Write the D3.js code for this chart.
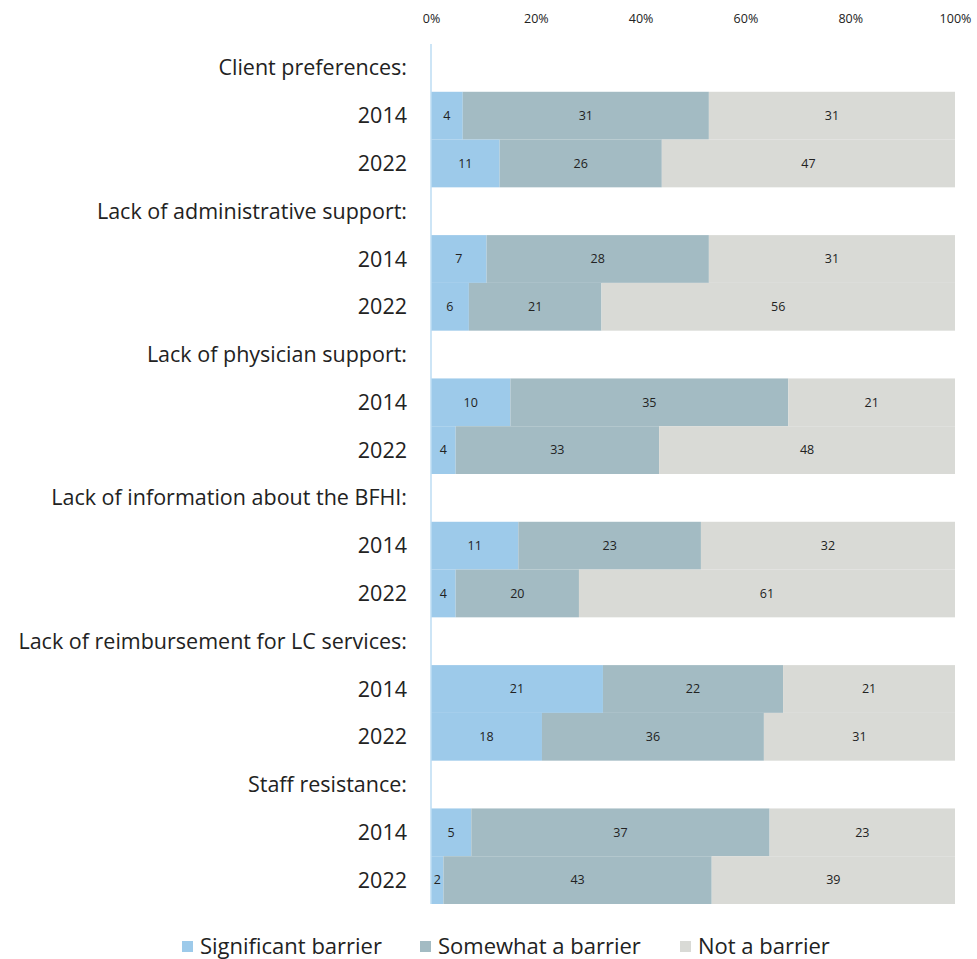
<!DOCTYPE html>
<html>
<head>
<meta charset="utf-8">
<script src="https://cdn.jsdelivr.net/npm/d3@7"></script>
<style>
  body { margin: 0; background: #fff; }
  text { font-family: "Open Sans", Lato, sans-serif; fill: #222; }
</style>
</head>
<body>
<svg width="977" height="959"></svg>
<script>
// ---- data (counts) ----
var barriers = ['Client preferences:', 'Lack of administrative support:', 'Lack of physician support:',
                'Lack of information about the BFHI:', 'Lack of reimbursement for LC services:', 'Staff resistance:'];
var years = ['2014', '2022'];
var seriesNames = ['Significant barrier', 'Somewhat a barrier', 'Not a barrier'];
var significant2014 = [4, 7, 10, 11, 21, 5];
var somewhat2014    = [31, 28, 35, 23, 22, 37];
var notBarrier2014  = [31, 31, 21, 32, 21, 23];
var significant2022 = [11, 6, 4, 4, 18, 2];
var somewhat2022    = [26, 21, 33, 20, 36, 43];
var notBarrier2022  = [47, 56, 48, 61, 31, 39];
var tickValues = [0, 0.2, 0.4, 0.6, 0.8, 1];

var colors = ['#9dcaea', '#a3bbc3', '#d9dad6'];

var svg = d3.select('svg');

// one row for the heading, one for each year
var rows = [];
barriers.forEach(function(b, i) {
    rows.push({key: 'h' + i, type: 'head', label: b});
    rows.push({key: 'a' + i, type: 'bar', label: years[0],
               vals: [significant2014[i], somewhat2014[i], notBarrier2014[i]]});
    rows.push({key: 'b' + i, type: 'bar', label: years[1],
               vals: [significant2022[i], somewhat2022[i], notBarrier2022[i]]});
});

var x = d3.scaleLinear().domain([0, 1]).range([431, 955]);
var y = d3.scaleBand().domain(rows.map(function(r) { return r.key; })).range([44, 904]).padding(0);

// ---- axis on top ----
var xAxis = svg.append('g')
    .attr('transform', 'translate(0,23)')
    .call(d3.axisTop(x).tickValues(tickValues).tickFormat(d3.format('.0%')).tickSize(0).tickPadding(0));
xAxis.select('.domain').remove();
xAxis.selectAll('text').style('font-family', '"Open Sans", sans-serif').style('font-size', '12.5px').attr('fill', '#222');

// ---- bars ----
var barRows = rows.filter(function(r) { return r.type == 'bar'; });
var g = svg.append('g');
barRows.forEach(function(r) {
    var total = d3.sum(r.vals);
    var cum = 0;
    r.vals.forEach(function(v, k) {
        var x0 = x(cum / total), x1 = x((cum + v) / total);
        g.append('rect')
            .attr('x', x0).attr('width', x1 - x0)
            .attr('y', y(r.key)).attr('height', y.bandwidth())
            .attr('fill', colors[k]);
        g.append('text')
            .attr('x', (x0 + x1) / 2)
            .attr('y', y(r.key) + y.bandwidth() / 2)
            .attr('dy', '0.35em')
            .attr('text-anchor', 'middle')
            .style('font-size', '12.5px')
            .text(v);
        cum += v;
    });
});

// vertical axis line
svg.append('line')
    .attr('x1', x(0)).attr('x2', x(0))
    .attr('y1', y.range()[0]).attr('y2', y.range()[1])
    .attr('stroke', '#bcdcf3').attr('stroke-width', 1.5);

// ---- row labels ----
svg.append('g').selectAll('text')
    .data(rows).enter().append('text')
    .attr('x', 407)
    .attr('y', function(d) { return y(d.key) + y.bandwidth() / 2; })
    .attr('dy', '0.35em')
    .attr('text-anchor', 'end')
    .style('font-size', '21.5px')
    .text(function(d) { return d.label; });

// ---- legend ----
var legendX = [182, 420, 680];
var legend = svg.append('g').selectAll('g')
    .data(seriesNames).enter().append('g')
    .attr('transform', function(d, i) { return 'translate(' + legendX[i] + ',946)'; });
legend.append('rect').attr('x', 0).attr('y', -5).attr('width', 11).attr('height', 11)
    .attr('fill', function(d, i) { return colors[i]; });
legend.append('text').attr('x', 18).attr('dy', '0.35em')
    .style('font-size', '22px')
    .text(function(d) { return d; });
</script>
</body>
</html>
